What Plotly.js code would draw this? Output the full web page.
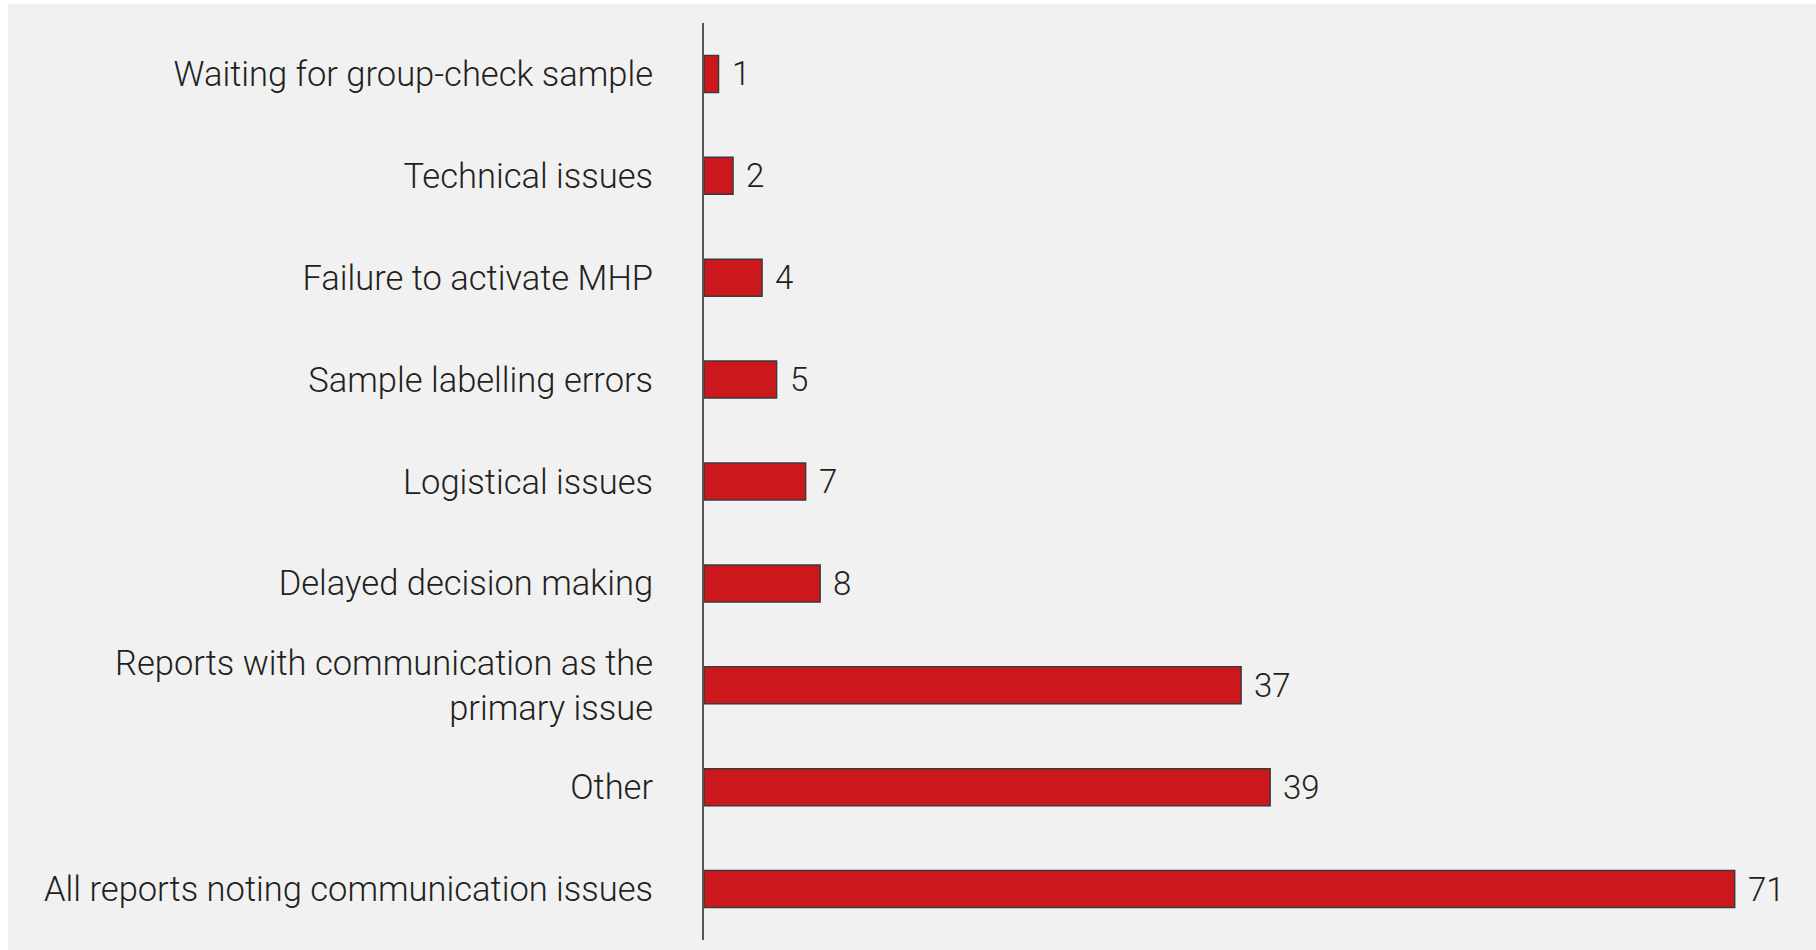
<!DOCTYPE html>
<html>
<head>
<meta charset="utf-8">
<script src="https://cdn.plot.ly/plotly-3.0.1.min.js"></script>
<style>
  html, body { margin: 0; padding: 0; background: #ffffff; }
  #chart { position: absolute; left: 8px; top: 4px; width: 1808px; height: 946px; }
</style>
</head>
<body>
<div id="chart"></div>
<script>
// Categories listed bottom-to-top as drawn by the y axis
const categories = [
  "All reports noting communication issues",
  "Other",
  "Reports with communication as the<br>primary issue",
  "Delayed decision making",
  "Logistical issues",
  "Sample labelling errors",
  "Failure to activate MHP",
  "Technical issues",
  "Waiting for group-check sample"
];
const counts = [71, 39, 37, 8, 7, 5, 4, 2, 1];
const valueLabels = counts.map(String);

const fontFamily = "Roboto, 'Helvetica Neue', Arial, sans-serif";
const textColor = "#231f20";

const trace = {
  type: "bar",
  orientation: "h",
  y: categories,
  x: counts,
  marker: { color: "#cc181c", line: { color: "#3a3a3a", width: 1.5 } },
  hoverinfo: "x+y"
};

const annotations = counts.map((v, i) => ({
  x: v, y: categories[i], xref: "x", yref: "y",
  text: valueLabels[i], showarrow: false,
  xanchor: "left", yanchor: "middle", xshift: 11,
  font: { family: fontFamily, size: 33, color: textColor, weight: 300 }
}));

const layout = {
  paper_bgcolor: "#f1f1f1",
  plot_bgcolor: "#f1f1f1",
  margin: { l: 696, r: 16, t: 18.5, b: 9.5 },
  bargap: 0.637,
  showlegend: false,
  font: { family: fontFamily, size: 34.5, color: textColor, weight: 300 },
  xaxis: {
    range: [0, 75.5], visible: false, showgrid: false, zeroline: false, fixedrange: true
  },
  yaxis: {
    type: "category",
    range: [-0.5, 8.5],
    showline: true, linecolor: "#555555", linewidth: 2,
    showgrid: false, zeroline: false, ticks: "",
    ticklabelstandoff: 42,
    tickfont: { family: fontFamily, size: 34.5, color: textColor, weight: 300 },
    fixedrange: true
  },
  annotations: annotations
};

Plotly.newPlot("chart", [trace], layout, { displayModeBar: false, staticPlot: true });
</script>
</body>
</html>
